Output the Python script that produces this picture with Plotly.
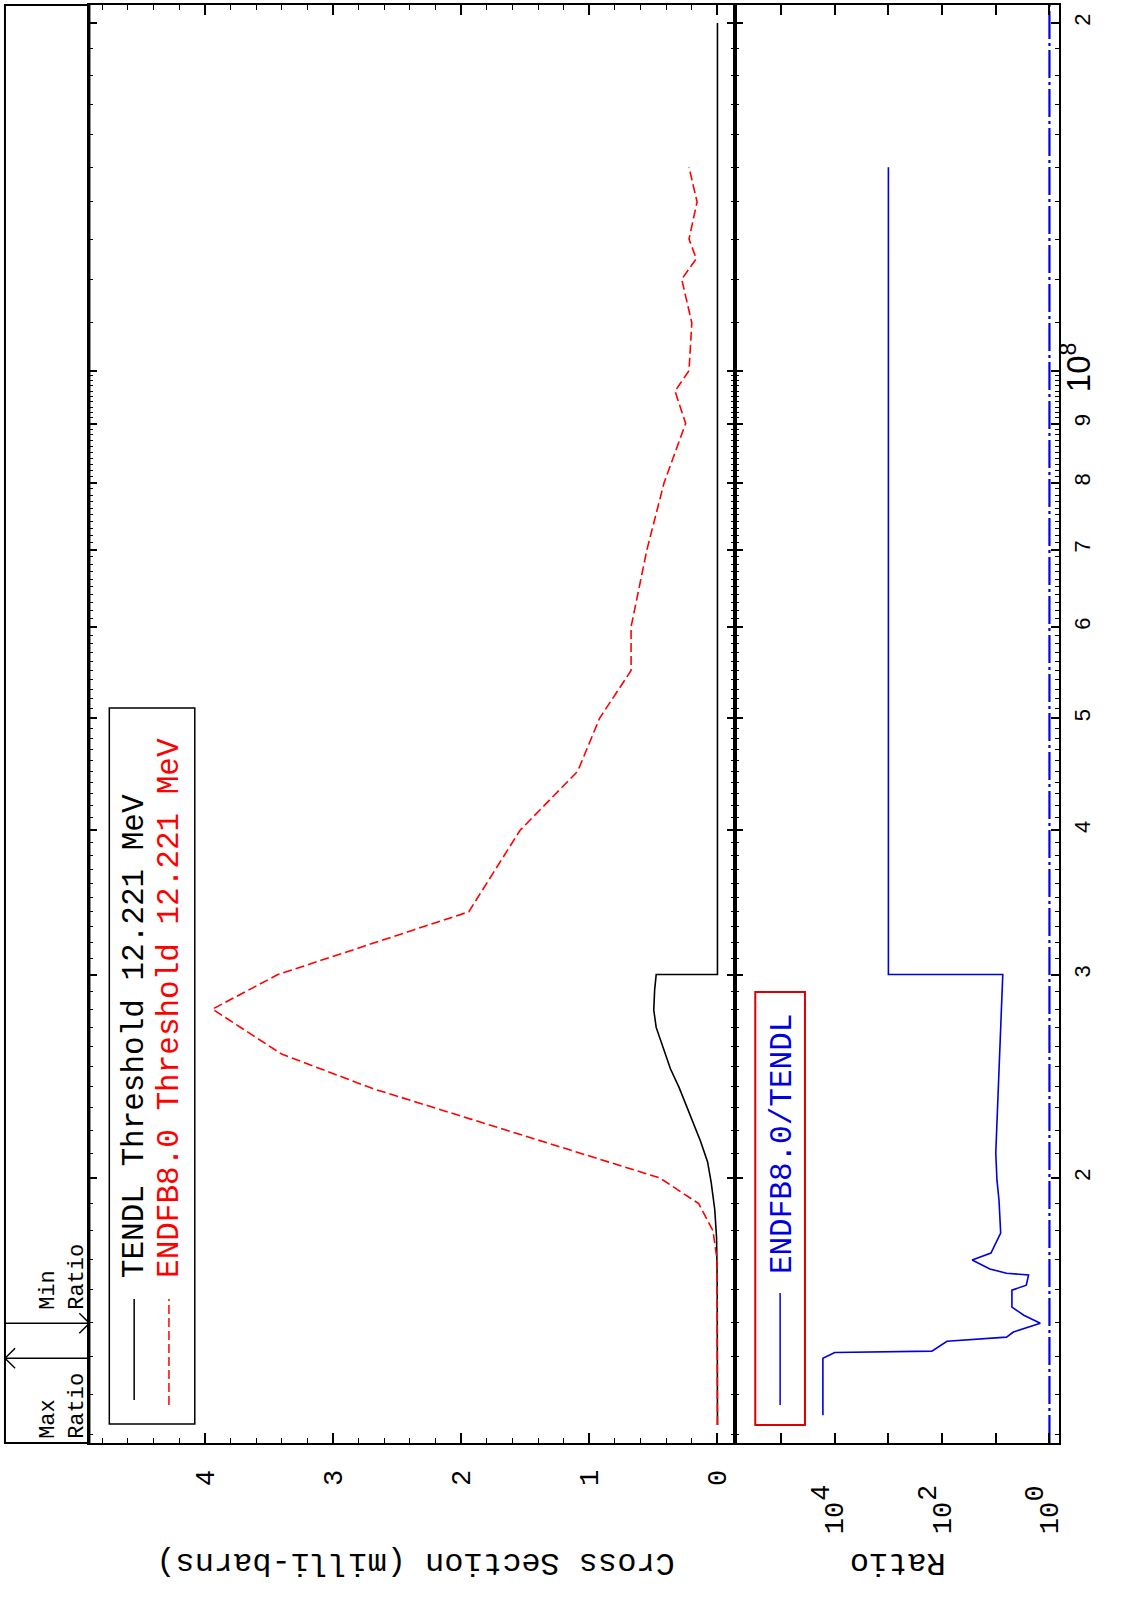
import numpy as np
import plotly.graph_objects as go

W, H = 1126, 1606


def px(x):
    return x / W


def py(y):
    return 1 - y / H


# ---- data -------------------------------------------------------------
# TENDL cross section (milli-barns) vs incident energy (eV)
tendl_energy = [1.2221e7, 1.5e7, 1.63e7, 1.776e7, 1.877e7, 1.982e7, 2.065e7,
                2.152e7, 2.274e7, 2.393e7, 2.486e7, 2.61e7, 2.70e7, 2.795e7,
                2.91e7, 3.0e7, 3.0e7, 2.0e8]
tendl_xs = [0.0, 0.0, 0.002, 0.007, 0.021, 0.049, 0.077,
            0.132, 0.215, 0.298, 0.367, 0.436, 0.478, 0.497,
            0.490, 0.478, 0.0, 0.0]

# ENDF/B-VIII.0 cross section (milli-barns) vs incident energy (eV)
endf_energy = [1.2221e7, 1.5e7, 1.7e7, 1.8e7, 1.9e7, 2.0e7, 2.39e7, 2.56e7,
               2.8e7, 3.0e7, 3.4e7, 4.0e7, 4.5e7, 5.0e7, 5.5e7, 6.0e7,
               7.0e7, 8.0e7, 9.0e7, 9.6e7, 1.0e8, 1.1e8, 1.2e8, 1.25e8,
               1.3e8, 1.4e8, 1.5e8]
endf_xs = [0.0, 0.0005, 0.003, 0.035, 0.146, 0.45, 2.69, 3.40,
           3.94, 3.43, 1.94, 1.54, 1.09, 0.92, 0.674, 0.674,
           0.55, 0.416, 0.248, 0.331, 0.222, 0.20, 0.279, 0.165,
           0.222, 0.159, 0.222]

# ENDF/B-VIII.0 / TENDL ratio
ratio_energy = [1.246e7, 1.396e7, 1.412e7, 1.416e7, 1.444e7, 1.456e7,
                1.471e7, 1.497e7, 1.521e7, 1.546e7, 1.599e7, 1.615e7,
                1.648e7, 1.654e7, 1.668e7, 1.698e7, 1.722e7, 1.792e7,
                1.913e7, 1.991e7, 2.102e7, 2.70e7, 3.0e7, 3.0e7, 1.5e8]
ratio_vals = [1.66e4, 1.66e4, 1.0e4, 155, 81, 6.3,
              4.7, 1.48, 3.0, 5.0, 5.0, 2.7,
              2.45, 6.3, 12.9, 27.5, 12.3, 8.1,
              8.7, 9.5, 10.0, 8.1, 7.4, 1000, 1000]

energy_range = [1.179e7, 2.073e8]
xs_range = [4.9, -0.14]
ratio_range_log = [5.85, -0.185]

energy_major = [2e7, 3e7, 4e7, 5e7, 6e7, 7e7, 8e7, 9e7, 1e8, 2e8]
energy_major_text = ['2', '3', '4', '5', '6', '7', '8', '9',
                     '<span style="font-size:33px">10<sup>8</sup></span>', '2']
energy_minor = ([k * 1e6 for k in range(12, 100) if k % 10 != 0]
                + [k * 1e7 for k in range(11, 20)])

xs_ticks = [0, 1, 2, 3, 4]
xs_tick_text = ['0', '1', '2', '3', '4']

ratio_label_ticks = [1, 100, 1e4]
ratio_label_base = ['10', '10', '10']
ratio_label_exp = ['0', '2', '4']
ratio_decade_ticks = [10, 1e3, 1e5]
ratio_half_ticks = [5 * 10 ** k for k in range(0, 6)]

# energies of the extreme ratio values
r = np.array(ratio_vals[:22])
max_ratio_energy = ratio_energy[int(np.where(r == r.max())[0][-1])]
min_ratio_energy = ratio_energy[int(np.argmin(r))]

MONO = 'Liberation Mono, Courier New, monospace'
SANS = 'Liberation Sans, Arial, sans-serif'
BLUE = '#0000e0'

fig = go.Figure()

fig.add_trace(go.Scatter(x=tendl_xs, y=tendl_energy, mode='lines',
                         line=dict(color='black', width=1.6),
                         xaxis='x', yaxis='y', hoverinfo='skip'))
fig.add_trace(go.Scatter(x=endf_xs, y=endf_energy, mode='lines',
                         line=dict(color='red', width=1.6, dash='9px,4px'),
                         xaxis='x', yaxis='y', hoverinfo='skip'))
fig.add_trace(go.Scatter(x=[1, 1], y=energy_range, mode='lines',
                         line=dict(color=BLUE, width=2.2, dash='28px,4px,3px,4px'),
                         xaxis='x2', yaxis='y2', hoverinfo='skip'))
fig.add_trace(go.Scatter(x=ratio_vals, y=ratio_energy, mode='lines',
                         line=dict(color=BLUE, width=1.6),
                         xaxis='x2', yaxis='y2', hoverinfo='skip'))

# max / min ratio markers in the left strip
head = 10 ** (10 / 1155)
fig.add_trace(go.Scatter(
    x=[0, 1, None, 0.12, 0, 0.12],
    y=[max_ratio_energy, max_ratio_energy, None,
       max_ratio_energy * head, max_ratio_energy, max_ratio_energy / head],
    mode='lines', line=dict(color='black', width=1.5),
    xaxis='x3', yaxis='y', hoverinfo='skip'))
fig.add_trace(go.Scatter(
    x=[0, 1, None, 0.88, 1, 0.88],
    y=[min_ratio_energy, min_ratio_energy, None,
       min_ratio_energy * head, min_ratio_energy, min_ratio_energy / head],
    mode='lines', line=dict(color='black', width=1.5),
    xaxis='x3', yaxis='y', hoverinfo='skip'))

yaxis_common = dict(
    type='log', range=[np.log10(energy_range[0]), np.log10(energy_range[1])],
    domain=[py(1443), py(5)], showline=True, linecolor='black', linewidth=2,
    mirror='ticks', ticks='inside', ticklen=8, tickwidth=1.5, tickcolor='black',
    tickvals=energy_major, showgrid=False, zeroline=False,
    minor=dict(tickvals=energy_minor, ticks='inside', ticklen=4, tickwidth=1,
               tickcolor='black', showgrid=False),
)

fig.update_layout(
    width=W, height=H, autosize=False,
    margin=dict(l=0, r=0, t=0, b=0),
    paper_bgcolor='white', plot_bgcolor='white',
    showlegend=False,
    xaxis=dict(
        domain=[px(90), px(740)], range=xs_range, anchor='y',
        showline=True, linecolor='black', linewidth=2, mirror='ticks',
        ticks='inside', ticklen=10, tickwidth=1.5, tickcolor='black',
        tickvals=xs_ticks, ticktext=xs_tick_text, tickangle=-90,
        tickfont=dict(family=MONO, size=27, color='black'),
        ticklabelstandoff=14,
        minor=dict(dtick=0.2, tick0=0, ticks='inside', ticklen=5, tickwidth=1,
                   tickcolor='black', showgrid=False),
        showgrid=False, zeroline=False,
    ),
    xaxis2=dict(
        type='log', domain=[px(740), px(1066)], range=ratio_range_log, anchor='y2',
        showline=True, linecolor='black', linewidth=2, mirror='ticks',
        ticks='inside', ticklen=10, tickwidth=1.5, tickcolor='black',
        tickvals=ratio_label_ticks, ticktext=ratio_label_base, tickangle=-90,
        tickfont=dict(family=MONO, size=27, color='black'),
        ticklabelstandoff=46,
        minor=dict(tickvals=ratio_decade_ticks, ticks='inside', ticklen=10,
                   tickwidth=1.5, tickcolor='black', showgrid=False),
        showgrid=False, zeroline=False,
    ),
    xaxis4=dict(
        type='log', overlaying='x2', range=ratio_range_log, anchor='y2',
        showline=False, mirror='ticks', ticks='inside', ticklen=5, tickwidth=1,
        tickcolor='black', tickvals=ratio_half_ticks, showticklabels=False,
        showgrid=False, zeroline=False,
    ),
    xaxis3=dict(domain=[px(5), px(90)], range=[0, 1], anchor='y', visible=False),
    yaxis=dict(anchor='x', showticklabels=False, **yaxis_common),
    yaxis2=dict(anchor='x2', side='right', showticklabels=True,
                ticktext=energy_major_text, tickangle=-90,
                tickfont=dict(family=SANS, size=22, color='black'),
                ticklabelstandoff=2, **yaxis_common),
)

shapes = [
    # outer frame of the left strip
    dict(type='rect', xref='paper', yref='paper', x0=px(5), x1=px(90),
         y0=py(1443), y1=py(5), line=dict(color='black', width=2)),
    # cross-section legend box and samples
    dict(type='rect', xref='paper', yref='paper', x0=px(110), x1=px(196),
         y0=py(1424), y1=py(708), line=dict(color='black', width=1.5)),
    dict(type='line', xref='paper', yref='paper', x0=px(135), x1=px(135),
         y0=py(1400), y1=py(1299), line=dict(color='black', width=1.5)),
    dict(type='line', xref='paper', yref='paper', x0=px(170), x1=px(170),
         y0=py(1405), y1=py(1299), line=dict(color='red', width=1.5, dash='9px,4px')),
    # ratio legend box and sample
    dict(type='rect', xref='paper', yref='paper', x0=px(760), x1=px(810),
         y0=py(1425), y1=py(992), line=dict(color='#dd0000', width=2)),
    dict(type='line', xref='paper', yref='paper', x0=px(785), x1=px(785),
         y0=py(1405), y1=py(1293), line=dict(color=BLUE, width=1.5)),
]

annotations = [
    dict(text='TENDL Threshold 12.221 MeV', xref='paper', yref='paper',
         x=px(135), y=py(1280), xanchor='center', yanchor='bottom',
         textangle=-90, showarrow=False,
         font=dict(family=MONO, size=31, color='black')),
    dict(text='ENDFB8.0 Threshold 12.221 MeV', xref='paper', yref='paper',
         x=px(170), y=py(1280), xanchor='center', yanchor='bottom',
         textangle=-90, showarrow=False,
         font=dict(family=MONO, size=31, color='red')),
    dict(text='ENDFB8.0/TENDL', xref='paper', yref='paper',
         x=px(787), y=py(1276), xanchor='center', yanchor='bottom',
         textangle=-90, showarrow=False,
         font=dict(family=MONO, size=31, color=BLUE)),
    dict(text='Cross Section (milli-barns)', xref='paper', yref='paper',
         x=px(418), y=py(1563), xanchor='center', yanchor='middle',
         textangle=180, showarrow=False,
         font=dict(family=MONO, size=32, color='black')),
    dict(text='Ratio', xref='paper', yref='paper',
         x=px(903), y=py(1563), xanchor='center', yanchor='middle',
         textangle=180, showarrow=False,
         font=dict(family=MONO, size=32, color='black')),
    dict(text='Max<br>Ratio', xref='paper', yref='y',
         x=px(64), y=np.log10(max_ratio_energy), xanchor='center', yanchor='top',
         yshift=-13, align='left', textangle=-90, showarrow=False,
         font=dict(family=MONO, size=22, color='black')),
    dict(text='Min<br>Ratio', xref='paper', yref='y',
         x=px(64), y=np.log10(min_ratio_energy), xanchor='center', yanchor='bottom',
         yshift=11, align='left', textangle=-90, showarrow=False,
         font=dict(family=MONO, size=22, color='black')),
]

# raised exponents of the ratio tick labels, set beside each "10"
for tv, ex in zip(ratio_label_ticks, ratio_label_exp):
    annotations.append(dict(
        text=ex, xref='x2', yref='paper', x=np.log10(tv), y=py(1493),
        xshift=-13, xanchor='center', yanchor='middle', textangle=-90,
        showarrow=False, font=dict(family=MONO, size=27, color='black')))

fig.update_layout(shapes=shapes, annotations=annotations)
fig.write_html('out.html')
